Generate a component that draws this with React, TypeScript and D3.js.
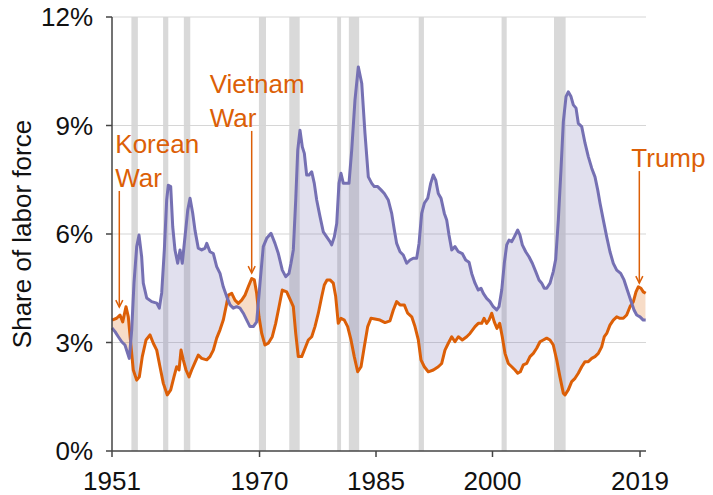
import React from 'react';
import * as d3 from 'd3';

// unemployment rate (purple) and job vacancies (orange), share of labor force, %
const unemployment: [number, number][] = [
  [1951.0,3.40],[1951.39,3.30],[1951.81,3.16],[1952.25,3.02],[1952.67,2.93],[1953.23,2.56],[1953.54,3.35],[1953.83,4.64],
  [1954.18,5.65],[1954.48,5.97],[1954.82,5.37],[1955.03,4.64],[1955.47,4.23],[1956.11,4.13],[1956.76,4.09],[1957.09,3.95],
  [1957.40,4.37],[1957.74,5.56],[1958.04,6.94],[1958.25,7.35],[1958.56,7.31],[1958.82,6.20],[1959.11,5.56],[1959.46,5.19],
  [1959.76,5.56],[1960.05,5.19],[1960.40,5.92],[1960.75,6.66],[1961.05,6.99],[1961.39,6.58],[1961.69,6.1],[1962.11,5.61],
  [1962.55,5.56],[1962.98,5.61],[1963.20,5.74],[1963.62,5.51],[1964.05,5.46],[1964.48,5.10],[1964.91,4.91],[1965.33,4.54],
  [1965.77,4.27],[1966.20,4.04],[1966.62,3.95],[1967.06,3.99],[1967.48,3.95],[1967.91,3.81],[1968.35,3.62],[1968.77,3.44],
  [1969.20,3.44],[1969.63,3.57],[1970.06,4.64],[1970.48,5.65],[1970.92,5.88],[1971.48,6.02],[1971.99,5.74],[1972.42,5.46],
  [1972.93,5.00],[1973.37,4.82],[1973.79,4.91],[1974.05,5.19],[1974.35,5.56],[1974.66,6.94],[1974.92,8.32],[1975.21,8.87],
  [1975.51,8.41],[1975.77,8.23],[1976.07,7.63],[1976.37,7.63],[1976.72,7.72],[1977.05,7.40],[1977.36,6.94],[1977.79,6.48],
  [1978.21,6.06],[1978.65,5.92],[1979.07,5.79],[1979.29,5.70],[1979.63,5.92],[1979.94,6.29],[1980.23,7.40],[1980.49,7.68],
  [1980.79,7.40],[1981.23,7.40],[1981.52,7.40],[1981.87,8.32],[1982.29,9.70],[1982.72,10.62],[1983.16,10.17],[1983.58,8.78],
  [1984.01,7.58],[1984.45,7.40],[1984.78,7.31],[1985.22,7.31],[1985.64,7.22],[1986.07,7.12],[1986.58,6.94],[1987.02,6.57],
  [1987.36,6.11],[1987.66,5.74],[1988.09,5.51],[1988.51,5.42],[1988.95,5.19],[1989.38,5.28],[1989.80,5.33],[1990.24,5.33],
  [1990.54,5.74],[1990.88,6.57],[1991.22,6.85],[1991.66,6.99],[1992.04,7.40],[1992.38,7.63],[1992.69,7.49],[1993.02,7.12],
  [1993.37,6.99],[1993.80,6.57],[1994.10,6.39],[1994.40,5.97],[1994.75,5.56],[1995.17,5.65],[1995.60,5.51],[1996.11,5.46],
  [1996.55,5.28],[1996.98,5.22],[1997.32,4.91],[1997.75,4.64],[1998.17,4.45],[1998.52,4.50],[1998.82,4.36],[1999.25,4.22],
  [1999.68,4.13],[2000.10,3.99],[2000.54,3.90],[2000.84,3.99],[2001.19,4.45],[2001.52,5.19],[2001.83,5.70],[2002.13,5.83],
  [2002.48,5.79],[2002.81,5.92],[2003.25,6.11],[2003.54,5.97],[2003.84,5.70],[2004.28,5.51],[2004.70,5.37],[2005.13,5.19],
  [2005.57,4.96],[2005.99,4.73],[2006.34,4.64],[2006.67,4.50],[2006.98,4.50],[2007.41,4.64],[2007.83,4.96],[2008.14,5.30],
  [2008.48,6.39],[2008.82,7.77],[2009.12,9.1],[2009.47,9.80],[2009.76,9.93],[2010.11,9.80],[2010.41,9.57],[2010.76,9.48],
  [2011.05,9.06],[2011.49,8.97],[2011.92,8.51],[2012.34,8.14],[2012.78,7.82],[2013.20,7.58],[2013.55,7.22],[2013.85,6.85],
  [2014.27,6.39],[2014.71,5.92],[2015.13,5.51],[2015.56,5.19],[2016.00,5.00],[2016.51,4.91],[2016.94,4.73],[2017.36,4.45],
  [2017.80,4.17],[2018.23,3.90],[2018.57,3.76],[2019.00,3.71],[2019.42,3.62],[2019.73,3.62],
];

const vacancies: [number, number][] = [
  [1951.0,3.62],[1951.6,3.67],[1952.03,3.76],[1952.38,3.57],[1952.80,3.99],[1953.10,3.71],[1953.41,2.98],[1953.74,2.24],
  [1954.18,1.96],[1954.52,2.05],[1954.90,2.61],[1955.38,3.07],[1955.89,3.21],[1956.32,2.98],[1956.76,2.79],[1957.18,2.33],
  [1957.61,1.87],[1958.12,1.55],[1958.56,1.69],[1958.98,2.05],[1959.33,2.33],[1959.63,2.24],[1959.89,2.79],[1960.18,2.52],
  [1960.53,2.24],[1960.92,2.05],[1961.26,2.24],[1961.69,2.45],[1962.11,2.65],[1962.55,2.56],[1963.20,2.52],[1963.62,2.61],
  [1964.05,2.79],[1964.48,3.12],[1964.91,3.35],[1965.33,3.62],[1965.77,4.08],[1965.98,4.31],[1966.42,4.36],[1966.84,4.17],
  [1967.27,4.08],[1967.70,4.17],[1968.13,4.31],[1968.55,4.54],[1968.99,4.77],[1969.33,4.73],[1969.63,4.36],[1969.93,3.71],
  [1970.28,3.25],[1970.70,2.93],[1971.13,2.98],[1971.64,3.16],[1972.08,3.53],[1972.51,3.99],[1972.93,4.45],[1973.50,4.40],
  [1973.92,4.2],[1974.35,3.99],[1974.66,3.25],[1974.99,2.61],[1975.43,2.61],[1975.86,2.84],[1976.28,3.07],[1976.72,3.16],
  [1977.14,3.44],[1977.57,3.81],[1978.01,4.27],[1978.34,4.59],[1978.69,4.73],[1979.07,4.73],[1979.50,4.64],[1979.81,4.27],
  [1980.14,3.53],[1980.49,3.67],[1980.92,3.62],[1981.35,3.44],[1981.78,3.07],[1982.20,2.61],[1982.64,2.19],[1983.07,2.33],
  [1983.49,2.88],[1983.93,3.44],[1984.35,3.67],[1984.87,3.65],[1985.51,3.62],[1986.16,3.55],[1986.80,3.60],[1987.23,3.90],
  [1987.66,4.13],[1988.09,4.04],[1988.64,4.04],[1989.08,3.81],[1989.60,3.71],[1990.02,3.44],[1990.45,3.07],[1990.79,2.52],
  [1991.22,2.33],[1991.73,2.19],[1992.38,2.24],[1993.02,2.33],[1993.46,2.42],[1993.88,2.79],[1994.31,2.98],[1994.75,3.16],
  [1995.17,3.02],[1995.60,3.16],[1996.11,3.07],[1996.68,3.16],[1997.10,3.25],[1997.75,3.44],[1998.17,3.53],[1998.61,3.53],
  [1998.91,3.67],[1999.25,3.53],[1999.55,3.62],[1999.90,3.81],[2000.23,3.57],[2000.58,3.39],[2000.93,3.53],[2001.26,3.16],
  [2001.61,2.70],[2002.04,2.42],[2002.48,2.33],[2002.90,2.24],[2003.25,2.15],[2003.58,2.19],[2003.97,2.38],[2004.41,2.42],
  [2004.83,2.61],[2005.26,2.70],[2005.69,2.84],[2006.12,3.02],[2006.54,3.07],[2006.98,3.12],[2007.41,3.07],[2007.83,2.93],
  [2008.27,2.52],[2008.69,2.05],[2009.12,1.60],[2009.34,1.55],[2009.76,1.69],[2010.20,1.92],[2010.63,2.01],[2011.05,2.15],
  [2011.49,2.33],[2011.92,2.47],[2012.34,2.47],[2012.78,2.56],[2013.20,2.61],[2013.63,2.70],[2014.06,2.88],[2014.40,3.16],
  [2014.71,3.25],[2015.13,3.48],[2015.56,3.62],[2016.00,3.71],[2016.42,3.67],[2016.85,3.67],[2017.28,3.76],[2017.71,3.99],
  [2018.14,4.13],[2018.48,4.40],[2018.78,4.54],[2019.12,4.50],[2019.42,4.40],[2019.73,4.36],
];

const recessions: [number, number][] = [
  [1953.5, 1954.33], [1957.58, 1958.25], [1960.25, 1961.08], [1969.92, 1970.83], [1973.83, 1975.17],
  [1980.0, 1980.5], [1981.5, 1982.83], [1990.5, 1991.17], [2001.17, 2001.83], [2007.92, 2009.42],
];

const xTicks = [1951, 1970, 1985, 2000, 2019];
const yTicks = [0, 3, 6, 9, 12];

// arrow: year it points at, top of the shaft and tip (in % units)
const annotations = [
  { lines: ['Korean', 'War'], year: 1951.94, top: 7.19, tip: 3.98, dx: -4 },
  { lines: ['Vietnam', 'War'], year: 1968.99, top: 8.85, tip: 4.92, dx: -42 },
  { lines: ['Trump'], year: 2018.91, top: 7.74, tip: 4.64, dx: -8 },
];

const W = 713, H = 495;
const margin = { top: 17, right: 67, bottom: 44, left: 112 };
const FONT = '"Liberation Sans", Arial, Helvetica, sans-serif';
const PURPLE = '#7570b3';
const ORANGE = '#dc5f07';

export default function App() {
  const x = d3.scaleLinear().domain([1951, 2019.77]).range([margin.left, W - margin.right]);
  const y = d3.scaleLinear().domain([0, 12]).range([H - margin.bottom, margin.top]);
  const [y0, y1] = y.range();

  const line = d3.line<[number, number]>().x(d => x(d[0])).y(d => y(d[1]));
  const below = d3.area<[number, number]>().x(d => x(d[0])).y0(y0).y1(d => y(d[1]));
  const above = d3.area<[number, number]>().x(d => x(d[0])).y0(y1).y1(d => y(d[1]));

  return (
    <svg width={W} height={H} style={{ display: 'block', fontFamily: FONT }}>
      <style>{'body{margin:0}'}</style>
      <defs>
        <clipPath id="aboveVac"><path d={above(vacancies) || ''} /></clipPath>
        <clipPath id="aboveUnemp"><path d={above(unemployment) || ''} /></clipPath>
      </defs>

      {recessions.map(([a, b], i) => (
        <rect key={i} x={x(a)} y={y1} width={x(b) - x(a)} height={y0 - y1} fill="#d9d9d9" />
      ))}

      {yTicks.filter(t => t > 0).map(t => (
        <line key={t} x1={x.range()[0]} x2={x.range()[1]} y1={y(t)} y2={y(t)} stroke="#d6d6d6" strokeWidth={1.2} />
      ))}

      <path d={below(unemployment) || ''} fill={PURPLE} fillOpacity={0.22} clipPath="url(#aboveVac)" />
      <path d={below(vacancies) || ''} fill="#d95f02" fillOpacity={0.22} clipPath="url(#aboveUnemp)" />

      <path d={line(vacancies) || ''} fill="none" stroke={ORANGE} strokeWidth={3} strokeLinejoin="round" />
      <path d={line(unemployment) || ''} fill="none" stroke={PURPLE} strokeWidth={3} strokeLinejoin="round" />

      {/* axes */}
      <line x1={x.range()[0]} x2={x.range()[0]} y1={y1} y2={y0} stroke="#444" strokeWidth={1.5} />
      <line x1={x.range()[0]} x2={x.range()[1]} y1={y0} y2={y0} stroke="#444" strokeWidth={1.5} />
      {yTicks.map(t => (
        <g key={t}>
          <line x1={x.range()[0] - 6} x2={x.range()[0]} y1={y(t)} y2={y(t)} stroke="#444" strokeWidth={1.5} />
          <text x={x.range()[0] - 19} y={y(t)} dy="0.35em" textAnchor="end" fontSize={26} fill="#111">{t}%</text>
        </g>
      ))}
      {xTicks.map(t => (
        <g key={t}>
          <line x1={x(t)} x2={x(t)} y1={y0} y2={y0 + 6} stroke="#444" strokeWidth={1.5} />
          <text x={x(t)} y={490} textAnchor="middle" fontSize={26} fill="#111">{t}</text>
        </g>
      ))}
      <text transform={`translate(31,${(y0 + y1) / 2}) rotate(-90)`} textAnchor="middle" fontSize={26} fill="#111">
        Share of labor force
      </text>

      {annotations.map(a => {
        const ax = x(a.year), top = y(a.top), tip = y(a.tip);
        return (
          <g key={a.lines[0]} fill={ORANGE} stroke="none">
            {a.lines.map((l, i) => (
              <text key={l} x={ax + a.dx} y={top - 4 - (a.lines.length - 1 - i) * 34} fontSize={26}>{l}</text>
            ))}
            <line x1={ax} x2={ax} y1={top} y2={tip} stroke={ORANGE} strokeWidth={1.5} />
            <polyline points={`${ax - 3.5},${tip - 7} ${ax},${tip} ${ax + 3.5},${tip - 7}`} fill="none" stroke={ORANGE} strokeWidth={1.5} />
          </g>
        );
      })}
    </svg>
  );
}
